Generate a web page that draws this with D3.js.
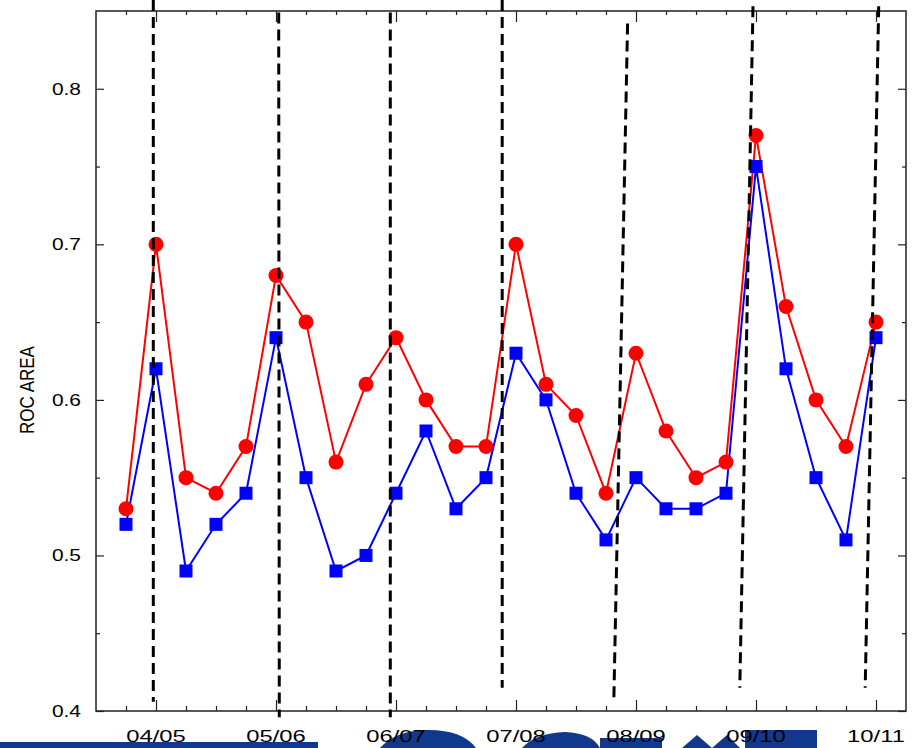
<!DOCTYPE html>
<html>
    <head>
        <title>ROC area</title>
        <script src="https://d3js.org/d3.v7.min.js"></script>
    </head>

    <body style="margin:0; background:#fff">
        <svg id="roc" width="914" height="748"></svg>
    </body>

    <script>

        // season labels on the x axis and where they sit (point index)
        var seasonLabels = ["04/05", "05/06", "06/07", "07/08", "08/09", "09/10", "10/11"]
        var seasonIndex = [1, 5, 9, 13, 17, 21, 25]

        // one point per quarter, 26 of them
        var pointIndex = [0, 1, 2, 3, 4, 5, 6, 7, 8, 9, 10, 11, 12, 13, 14, 15, 16, 17, 18, 19, 20, 21, 22, 23, 24, 25]

        // red circles
        var redValues = [0.53, 0.70, 0.55, 0.54, 0.57, 0.68, 0.65, 0.56, 0.61, 0.64, 0.60, 0.57, 0.57,
                         0.70, 0.61, 0.59, 0.54, 0.63, 0.58, 0.55, 0.56, 0.77, 0.66, 0.60, 0.57, 0.65]

        // blue squares
        var blueValues = [0.52, 0.62, 0.49, 0.52, 0.54, 0.64, 0.55, 0.49, 0.50, 0.54, 0.58, 0.53, 0.55,
                          0.63, 0.60, 0.54, 0.51, 0.55, 0.53, 0.53, 0.54, 0.75, 0.62, 0.55, 0.51, 0.64]

        var yTickLabels = [0.4, 0.5, 0.6, 0.7, 0.8]
        var yMinorTicks = [0.45, 0.55, 0.65, 0.75]

        // hand drawn dashed season separators (x in point index, y in roc area)
        var sepTopX = [0.91, 5.09, 8.81, 12.54, 16.72, 20.9, 25.09]
        var sepBottomX = [0.91, 5.11, 8.81, 12.54, 16.26, 20.46, 24.64]
        var sepTopY = [0.857, 0.849, 0.849, 0.857, 0.842, 0.853, 0.853]
        var sepBottomY = [0.406, 0.396, 0.396, 0.415, 0.406, 0.415, 0.415]

        var margin = { top: 11, bottom: 37, left: 96, right: 8 }
        var width = 914 - margin.left - margin.right
        var height = 748 - margin.top - margin.bottom

        var svg = d3.select("#roc")

        // logo strip peeking in at the very bottom (decoration only)
        var logo = svg.append("g").attr("fill", "#10398e")
        logo.append("rect").attr("x", 0).attr("y", 742).attr("width", 318).attr("height", 6)
        logo.append("path").attr("d", "M380,748 Q395,731 425,730 Q462,729 476,748 Z")
        logo.append("path").attr("d", "M522,748 Q535,733 565,732 Q592,733 600,748 Z")
        logo.append("rect").attr("x", 600).attr("y", 738).attr("width", 62).attr("height", 10)
        logo.append("path").attr("d", "M682,748 L697,735 L712,748 L727,735 L740,748 Z")
        logo.append("rect").attr("x", 745).attr("y", 730).attr("width", 72).attr("height", 18)

        var g = svg.append("g")
        .attr("transform", "translate(" + margin.left + "," + margin.top + ")")

        var x = d3.scaleLinear()
        .domain([-1, 26])
        .range([0, width])

        var y = d3.scaleLinear()
        .domain([0.4, 0.85])
        .range([height, 0])

        // ticks every quarter, longer at season labels (inward, bottom and top)
        var minorX = pointIndex.filter(function(d) { return seasonIndex.indexOf(d) < 0 })

        g.append("g")
        .attr("transform", "translate(0," + height + ")")
        .call(d3.axisBottom(x).tickValues(minorX).tickSize(-5).tickFormat(""))
        g.append("g")
        .attr("transform", "translate(0," + height + ")")
        .call(d3.axisBottom(x).tickValues(seasonIndex).tickSize(-11).tickFormat(""))
        g.append("g")
        .call(d3.axisTop(x).tickValues(minorX).tickSize(-4).tickFormat(""))
        g.append("g")
        .call(d3.axisTop(x).tickValues(seasonIndex).tickSize(-11).tickFormat(""))

        // y ticks on both sides
        g.append("g")
        .call(d3.axisLeft(y).tickValues(yTickLabels).tickSize(-8).tickFormat(""))
        g.append("g")
        .call(d3.axisLeft(y).tickValues(yMinorTicks).tickSize(-4).tickFormat(""))
        g.append("g")
        .attr("transform", "translate(" + width + ",0)")
        .call(d3.axisRight(y).tickValues(yTickLabels).tickSize(-8).tickFormat(""))
        g.append("g")
        .attr("transform", "translate(" + width + ",0)")
        .call(d3.axisRight(y).tickValues(yMinorTicks).tickSize(-4).tickFormat(""))

        g.selectAll(".domain").remove()
        g.selectAll(".tick line").attr("stroke", "#222").attr("stroke-width", 1.2)

        // frame
        g.append("rect")
        .attr("width", width)
        .attr("height", height)
        .attr("fill", "none")
        .attr("stroke", "#222")
        .attr("stroke-width", 1.5)

        // tick labels, the picture is stretched sideways a bit
        g.selectAll(".ylab")
        .data(yTickLabels)
        .enter()
        .append("text")
        .attr("transform", function(d) {
            return "translate(-15," + (y(d) + 6) + ") scale(1.23,1)"
        })
        .attr("text-anchor", "end")
        .attr("font-family", "Liberation Sans, Arial, sans-serif")
        .attr("font-size", 17)
        .text(function(d) { return d.toFixed(1) })

        g.selectAll(".xlab")
        .data(seasonLabels)
        .enter()
        .append("text")
        .attr("transform", function(d, i) {
            return "translate(" + x(seasonIndex[i]) + "," + (height + 31) + ") scale(1.4,1)"
        })
        .attr("text-anchor", "middle")
        .attr("font-family", "Liberation Sans, Arial, sans-serif")
        .attr("font-size", 17)
        .text(function(d) { return d })

        svg.append("text")
        .attr("transform", "translate(27," + (margin.top + height / 2 + 29) + ") scale(1.23,1) rotate(-90)")
        .attr("text-anchor", "middle")
        .attr("dominant-baseline", "central")
        .attr("font-family", "Liberation Sans, Arial, sans-serif")
        .attr("font-size", 17)
        .text("ROC AREA")

        // lines
        var line = d3.line()
        .x(function(d, i) { return x(pointIndex[i]) })
        .y(function(d) { return y(d) })

        g.append("path")
        .datum(blueValues)
        .attr("fill", "none")
        .attr("stroke", "#0000ff")
        .attr("stroke-width", 2)
        .attr("d", line)

        g.append("path")
        .datum(redValues)
        .attr("fill", "none")
        .attr("stroke", "#ff0000")
        .attr("stroke-width", 2)
        .attr("d", line)

        g.selectAll(".red")
        .data(redValues)
        .enter()
        .append("circle")
        .attr("cx", function(d, i) { return x(pointIndex[i]) })
        .attr("cy", function(d) { return y(d) })
        .attr("r", 7.5)
        .attr("fill", "#ff0000")

        g.selectAll(".blue")
        .data(blueValues)
        .enter()
        .append("rect")
        .attr("x", function(d, i) { return x(pointIndex[i]) - 6.5 })
        .attr("y", function(d) { return y(d) - 6.5 })
        .attr("width", 13)
        .attr("height", 13)
        .attr("fill", "#0000ff")

        // dashed separators drawn on top, they run past the frame
        g.selectAll(".sep")
        .data(sepTopX)
        .enter()
        .append("line")
        .attr("x1", function(d) { return x(d) })
        .attr("y1", function(d, i) { return y(sepTopY[i]) })
        .attr("x2", function(d, i) { return x(sepBottomX[i]) })
        .attr("y2", function(d, i) { return y(sepBottomY[i]) })
        .attr("stroke", "#000")
        .attr("stroke-width", 3)
        .attr("stroke-dasharray", "11,6")
    </script>
</html>
